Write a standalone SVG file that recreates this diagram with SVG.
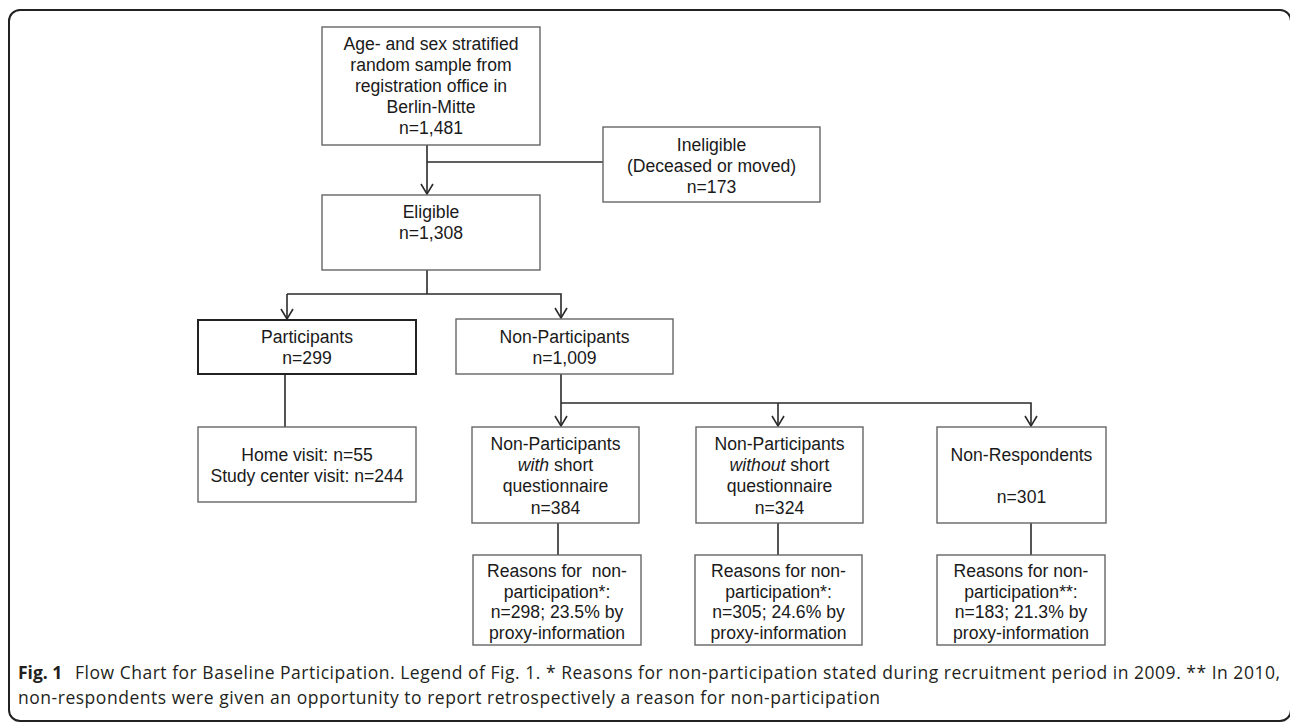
<svg xmlns="http://www.w3.org/2000/svg" width="1290" height="724" viewBox="0 0 1290 724">
<style>
.box{fill:#fff;stroke:#666;stroke-width:1.4}
.boxb{fill:#fff;stroke:#222;stroke-width:2}
.t{font-family:"Liberation Sans",Arial,sans-serif;font-size:17.6px;fill:#1a1a1a;text-anchor:middle}
.c{stroke:#2a2a2a;stroke-width:1.6;fill:none}
.cap{font-family:"Open Sans","Noto Sans",sans-serif;font-size:17.5px;fill:#231f20}
</style>
<defs>
<marker id="ah" markerUnits="userSpaceOnUse" markerWidth="14" markerHeight="16" viewBox="-12 -8 14 16" refX="0" refY="0" orient="auto">
<path d="M-10,-6 L0,0 L-10,6" fill="none" stroke="#2a2a2a" stroke-width="1.6"/>
</marker>
</defs>
<rect x="9" y="10" width="1282" height="711" rx="11" fill="#fff" stroke="#222" stroke-width="2"/>
<g id="connectors">
<line class="c" x1="427" y1="145" x2="427" y2="194" marker-end="url(#ah)"/>
<line class="c" x1="427" y1="162" x2="603" y2="162"/>
<line class="c" x1="427" y1="270" x2="427" y2="294"/>
<polyline class="c" points="287,294 561,294 561,318" marker-end="url(#ah)"/>
<line class="c" x1="287" y1="294" x2="287" y2="319" marker-end="url(#ah)"/>
<line class="c" x1="285" y1="374" x2="285" y2="427"/>
<line class="c" x1="561" y1="374" x2="561" y2="426" marker-end="url(#ah)"/>
<polyline class="c" points="561,403 1031,403 1031,426" marker-end="url(#ah)"/>
<line class="c" x1="778" y1="403" x2="778" y2="426" marker-end="url(#ah)"/>
<line class="c" x1="558" y1="523" x2="558" y2="555"/>
<line class="c" x1="778" y1="523" x2="778" y2="555"/>
<line class="c" x1="1031" y1="523" x2="1031" y2="555"/>
</g>
<g id="sample">
<rect class="box" x="322" y="27" width="218" height="118"/>
<text class="t" x="431" y="49.5">Age- and sex stratified</text>
<text class="t" x="431" y="70.5">random sample from</text>
<text class="t" x="431" y="91.5">registration office in</text>
<text class="t" x="431" y="112.5">Berlin-Mitte</text>
<text class="t" x="431" y="133.5">n=1,481</text>
</g>
<g id="ineligible">
<rect class="box" x="603" y="127" width="217" height="75"/>
<text class="t" x="711.5" y="150.5">Ineligible</text>
<text class="t" x="711.5" y="171.5">(Deceased or moved)</text>
<text class="t" x="711.5" y="192.5">n=173</text>
</g>
<g id="eligible">
<rect class="box" x="322" y="195" width="218" height="75"/>
<text class="t" x="431" y="218">Eligible</text>
<text class="t" x="431" y="239">n=1,308</text>
</g>
<g id="participants">
<rect class="boxb" x="198" y="320" width="218" height="54"/>
<text class="t" x="307" y="343">Participants</text>
<text class="t" x="307" y="364">n=299</text>
</g>
<g id="nonparticipants">
<rect class="box" x="456" y="319" width="217" height="55"/>
<text class="t" x="564.5" y="343">Non-Participants</text>
<text class="t" x="564.5" y="364">n=1,009</text>
</g>
<g id="visits">
<rect class="box" x="198" y="427" width="218" height="75"/>
<text class="t" x="307" y="460.5">Home visit: n=55</text>
<text class="t" x="307" y="482">Study center visit: n=244</text>
</g>
<g id="np-with">
<rect class="box" x="472" y="427" width="167" height="96"/>
<text class="t" x="555.5" y="449.5">Non-Participants</text>
<text class="t" x="555.5" y="471"><tspan font-style="italic">with</tspan> short</text>
<text class="t" x="555.5" y="492.3">questionnaire</text>
<text class="t" x="555.5" y="513.6">n=384</text>
</g>
<g id="np-without">
<rect class="box" x="696" y="427" width="167" height="96"/>
<text class="t" x="779.5" y="449.5">Non-Participants</text>
<text class="t" x="779.5" y="471"><tspan font-style="italic">without</tspan> short</text>
<text class="t" x="779.5" y="492.3">questionnaire</text>
<text class="t" x="779.5" y="513.6">n=324</text>
</g>
<g id="nonrespondents">
<rect class="box" x="937" y="427" width="169" height="96"/>
<text class="t" x="1021.5" y="460.5">Non-Respondents</text>
<text class="t" x="1021.5" y="503">n=301</text>
</g>
<g id="reasons-with">
<rect class="box" x="473" y="555" width="168" height="90"/>
<text class="t" x="557" y="577" style="white-space:pre">Reasons for  non-</text>
<text class="t" x="557" y="597.5">participation*:</text>
<text class="t" x="557" y="618">n=298; 23.5% by</text>
<text class="t" x="557" y="638.5">proxy-information</text>
</g>
<g id="reasons-without">
<rect class="box" x="695" y="555" width="167" height="90"/>
<text class="t" x="778.5" y="577">Reasons for non-</text>
<text class="t" x="778.5" y="597.5">participation*:</text>
<text class="t" x="778.5" y="618">n=305; 24.6% by</text>
<text class="t" x="778.5" y="638.5">proxy-information</text>
</g>
<g id="reasons-nonresp">
<rect class="box" x="937" y="555" width="168" height="90"/>
<text class="t" x="1021" y="577">Reasons for non-</text>
<text class="t" x="1021" y="597.5">participation**:</text>
<text class="t" x="1021" y="618">n=183; 21.3% by</text>
<text class="t" x="1021" y="638.5">proxy-information</text>
</g>
<g id="caption">
<text class="cap" x="18" y="679" font-weight="bold">Fig. 1</text>
<text class="cap" x="75" y="679" textLength="1205" lengthAdjust="spacing">Flow Chart for Baseline Participation. Legend of Fig. 1. * Reasons for non-participation stated during recruitment period in 2009. ** In 2010,</text>
<text class="cap" x="18" y="704" textLength="862" lengthAdjust="spacing">non-respondents were given an opportunity to report retrospectively a reason for non-participation</text>
</g>
</svg>
